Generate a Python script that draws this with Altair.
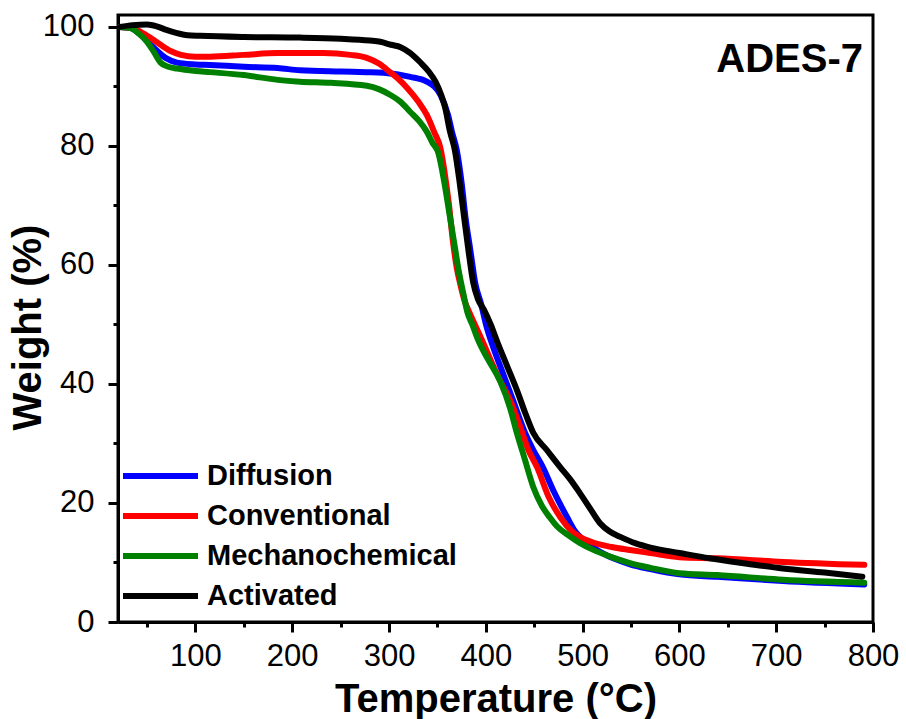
import altair as alt
import pandas as pd

series_names = ["Diffusion", "Conventional", "Mechanochemical", "Activated"]
series_colors = ["#0000FF", "#FF0000", "#008000", "#000000"]

diff_T = [22, 33, 45, 57, 70, 81, 100, 115, 150, 185, 208, 250, 277, 294, 322, 339, 353, 361,
          365, 370, 375, 379, 384, 389, 395, 401, 408, 416, 428, 440, 449, 459, 470, 484, 492,
          500, 510, 520, 549, 570, 600, 639, 707, 791]
diff_W = [100, 99.8, 98.5, 96.5, 94.7, 94.0, 93.7, 93.6, 93.3, 93.1, 92.7, 92.5, 92.4, 92.3, 91.6,
          90.8, 88.6, 85.2, 82.4, 79.3, 73.8, 68.0, 62.5, 57.0, 53.5, 49.5, 46.0, 42.5, 37.3, 32.0,
          28.9, 26.0, 22.0, 17.6, 15.3, 13.9, 12.6, 11.6, 9.7, 8.9, 8.0, 7.6, 6.9, 6.3]

conv_T = [22, 35, 43, 55, 64, 75, 85, 100, 115, 150, 185, 232, 260, 277, 290, 301, 310, 319, 330,
          339, 347, 353, 357, 362, 366, 370, 374, 378, 383, 390, 397, 405, 415, 425, 435, 444,
          453, 465, 477, 488, 497, 510, 530, 549, 570, 600, 639, 707, 791]
conv_W = [100, 99.8, 99.2, 98.0, 97.0, 95.9, 95.3, 95.0, 95.0, 95.3, 95.6, 95.6, 95.3, 94.8, 93.8,
          92.4, 91.2, 89.7, 87.5, 85.2, 82.2, 79.7, 76.0, 70.0, 64.0, 59.5, 56.5, 54.0, 52.0, 49.5,
          47.0, 44.0, 40.5, 37.3, 33.0, 28.9, 26.0, 21.0, 17.6, 15.4, 14.3, 13.4, 12.6, 12.1, 11.6,
          10.9, 10.7, 10.1, 9.6]

mech_T = [22, 33, 42, 50, 57, 64, 72, 81, 100, 115, 150, 185, 208, 240, 277, 290, 301, 312, 322,
          331, 339, 345, 351, 357, 363, 368, 372, 377, 381, 386, 392, 402, 415, 425, 432, 440,
          449, 458, 466, 474, 485, 497, 510, 530, 549, 570, 600, 639, 707, 791]
mech_W = [100, 99.8, 98.8, 97.5, 95.8, 94.0, 93.3, 93.0, 92.6, 92.4, 91.9, 91.1, 90.8, 90.6, 90.1,
          89.5, 88.6, 87.4, 85.7, 84.2, 82.4, 80.5, 78.8, 74.0, 68.0, 63.0, 59.0, 55.0, 52.0, 50.0,
          47.4, 44.2, 40.4, 36.0, 31.8, 27.5, 22.7, 19.5, 17.6, 16.0, 14.6, 13.3, 12.2, 10.9, 9.9,
          9.1, 8.2, 7.9, 7.1, 6.6]

act_T = [22, 35, 50, 60, 70, 80, 92, 105, 150, 208, 250, 280, 291, 302, 312, 322, 332, 341, 348,
         354, 358, 363, 368, 373, 378, 382, 387, 392, 398, 405, 412, 422, 432, 441, 449, 463, 477,
         487, 497, 508, 518, 528, 539, 555, 570, 600, 631, 670, 707, 750, 789]
act_W = [100, 100.3, 100.4, 100.1, 99.5, 99.0, 98.6, 98.5, 98.3, 98.2, 98.0, 97.7, 97.5, 97.0, 96.6,
         95.6, 94.1, 92.5, 90.8, 88.5, 86.4, 82.4, 79.3, 73.8, 67.5, 62.5, 57.0, 54.2, 52.5, 50.0,
         47.0, 43.0, 39.0, 35.0, 31.8, 28.9, 26.0, 24.0, 21.7, 19.0, 16.6, 15.2, 14.3, 13.2, 12.5,
         11.6, 10.7, 9.8, 9.0, 8.3, 7.6]

x_ticks = list(range(50, 801, 50))
y_ticks = list(range(0, 101, 10))

frames = []
for name, T, W in zip(series_names, [diff_T, conv_T, mech_T, act_T], [diff_W, conv_W, mech_W, act_W]):
    frames.append(pd.DataFrame({"T": T, "W": W, "Series": name}))
df = pd.concat(frames, ignore_index=True)

FONT = "Liberation Sans"

x_enc = alt.X(
    "T:Q",
    scale=alt.Scale(domain=[20, 800], nice=False, zero=False),
    axis=alt.Axis(
        values=x_ticks,
        labelExpr="datum.value % 100 === 0 ? datum.label : ''",
        tickSize={"condition": {"test": "datum.value % 100 === 0", "value": 10}, "value": 5},
        tickWidth=3, tickColor="black", domainWidth=3, domainColor="black",
        labelFont=FONT, labelFontSize=31, labelColor="black", labelPadding=9,
        labelOverlap=False, labelFlush=False, grid=False,
        title="Temperature (°C)", titleFont=FONT, titleFontSize=40, titleFontWeight="bold",
        titleColor="black", titlePadding=8,
    ),
)
y_enc = alt.Y(
    "W:Q",
    scale=alt.Scale(domain=[0, 102], nice=False, zero=False),
    axis=alt.Axis(
        values=y_ticks,
        labelExpr="datum.value % 20 === 0 ? datum.label : ''",
        tickSize={"condition": {"test": "datum.value % 20 === 0", "value": 10}, "value": 5},
        tickWidth=3, tickColor="black", domainWidth=3, domainColor="black",
        labelFont=FONT, labelFontSize=31, labelColor="black", labelPadding=14,
        labelOverlap=False, labelFlush=False, grid=False,
        title="Weight (%)", titleFont=FONT, titleFontSize=40, titleFontWeight="bold",
        titleColor="black", titleX=-70, titleY=312,
    ),
)
color_enc = alt.Color(
    "Series:N",
    scale=alt.Scale(domain=series_names, range=series_colors),
    legend=alt.Legend(
        title=None, orient="none", legendX=2, legendY=441,
        symbolType="stroke", symbolSize=5625, symbolStrokeWidth=6,
        labelFont=FONT, labelFontSize=29, labelFontWeight="bold", labelColor="black",
        labelOffset=6, labelLimit=0, clipHeight=40, rowPadding=0, padding=0,
    ),
)

layers = []
for name in series_names:
    layers.append(
        alt.Chart(df)
        .transform_filter(alt.datum.Series == name)
        .mark_line(strokeWidth=6, interpolate="monotone", strokeCap="round", strokeJoin="round")
        .encode(x=x_enc, y=y_enc, color=color_enc)
    )

chart = (
    alt.layer(*layers)
    .properties(
        width=755, height=607,
        padding={"left": 118, "top": 15, "right": 33, "bottom": 97},
        autosize=alt.AutoSizeParams(type="none"),
        title=alt.TitleParams(
            "ADES-7", anchor="end", orient="top", frame="group", font=FONT, fontSize=40,
            fontWeight="bold", color="black", offset=-101, dx=-10, baseline="alphabetic",
        ),
    )
    .configure(background="white", view=alt.ViewConfig(stroke="black", strokeWidth=3))
)

chart.save("out.html", embed_options={"renderer": "svg", "actions": False})
